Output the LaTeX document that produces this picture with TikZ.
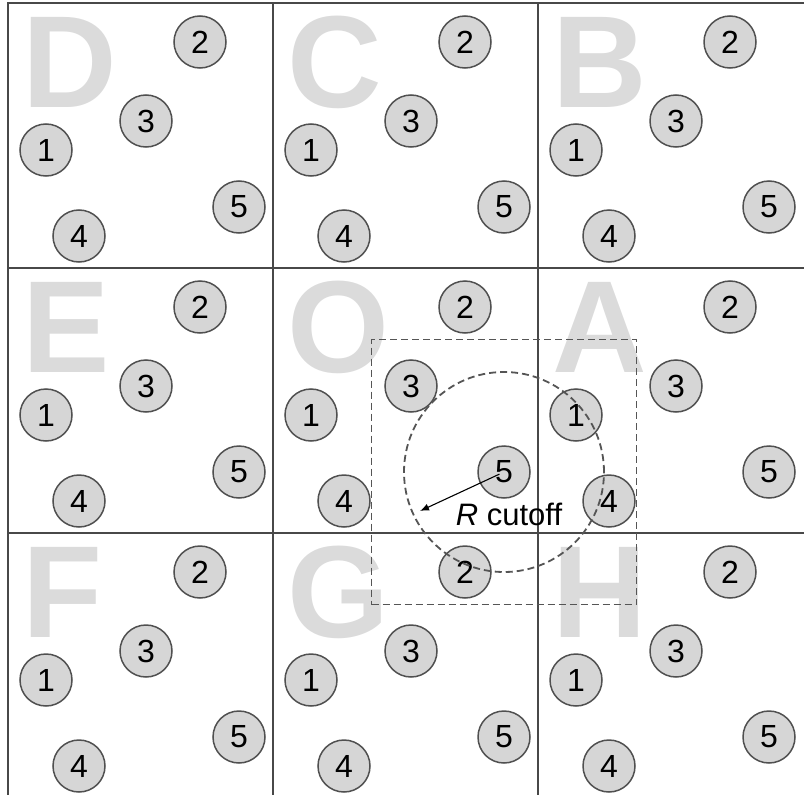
\documentclass[tikz,border=0pt]{standalone}
\usepackage{fontspec}
\setmainfont{Liberation Sans}
\usepackage{xcolor}
\usetikzlibrary{positioning, arrows.meta}

\definecolor{gridgray}{RGB}{72,72,72}
\definecolor{atomfill}{RGB}{214,214,214}
\definecolor{atomedge}{RGB}{80,80,80}
\definecolor{cutgray}{RGB}{85,85,85}

\begin{document}
\begin{tikzpicture}[x=1pt, y=-1pt,
    cellline/.style={draw=gridgray, line width=1.6pt},
    letter/.style={anchor=base west, inner sep=0pt, text=gray!28,
      font=\fontsize{131}{131}\selectfont\bfseries},
    atom/.style={circle, draw=atomedge, fill=atomfill, line width=1.5pt,
      minimum size=52pt, inner sep=0pt, font=\fontsize{32}{32}\selectfont},
    cutoff/.style={draw=cutgray, line width=1.8pt, dash pattern=on 7pt off 4pt}]
   \useasboundingbox (0,0) rectangle (804,795);

   % cell letters behind everything
   \foreach \name/\col/\row in {D/0/0, C/1/0, B/2/0, E/0/1, O/1/1, A/2/1, F/0/2, G/1/2, H/2/2}
     \node[letter] (\name) at (22+265*\col, 107+265*\row) {\name};

   % grid of periodic images
   \coordinate (tl) at (8,3);
   \coordinate (tr) at (804,3);
   \coordinate (bl) at (8,795);
   \draw[cellline] (bl) -- (tl) -- (tr);
   \foreach \col in {1,2}
     \draw[cellline] (8+265*\col,3) -- (8+265*\col,795);
   \foreach \row in {1,2}
     \draw[cellline] (8,3+265*\row) -- (804,3+265*\row);

   % the five particles, same in every cell
   \foreach \name/\col/\row in {D/0/0, C/1/0, B/2/0, E/0/1, O/1/1, A/2/1, F/0/2, G/1/2, H/2/2}
     \foreach \n/\dx/\dy in {1/38/147, 2/192/39, 3/138/118, 4/71/233, 5/231/204}
       \node[atom] (\name-\n) at (8+265*\col+\dx, 3+265*\row+\dy) {\n};

   % cutoff box and sphere round particle 5 of O
   \node[cutoff, minimum size=265pt, inner sep=0pt] (box) at (O-5) {};
   \node[cutoff, circle, minimum size=200pt, inner sep=0pt] (range) at (O-5) {};

   \coordinate (rtip) at (420,511);
   \draw[line width=1.1pt, -{Latex[length=9pt, width=7pt]}, shorten <=5pt] (O-5.center) -- (rtip);
   \node[font=\fontsize{31}{31}\selectfont] (rlabel) at (509,514) {\textit{R} cutoff};
\end{tikzpicture}
\end{document}
